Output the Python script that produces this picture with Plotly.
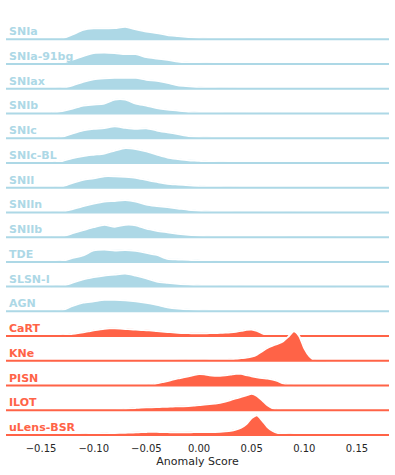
import plotly.graph_objects as go

# anomaly score grids (coarse for the common classes, fine for the anomalous ones)
score_coarse = [-0.14, -0.13, -0.12, -0.11, -0.10, -0.09, -0.08, -0.07, -0.06, -0.05,
                -0.04, -0.03, -0.02, -0.01, 0.00, 0.01, 0.02, 0.03, 0.04, 0.05,
                0.06, 0.07, 0.08, 0.09, 0.10, 0.11, 0.12, 0.13]
score_fine = [-0.140, -0.135, -0.130, -0.125, -0.120, -0.115, -0.110, -0.105, -0.100, -0.095,
              -0.090, -0.085, -0.080, -0.075, -0.070, -0.065, -0.060, -0.055, -0.050, -0.045,
              -0.040, -0.035, -0.030, -0.025, -0.020, -0.015, -0.010, -0.005, 0.000, 0.005,
              0.010, 0.015, 0.020, 0.025, 0.030, 0.035, 0.040, 0.045, 0.050, 0.055,
              0.060, 0.065, 0.070, 0.075, 0.080, 0.085, 0.090, 0.095, 0.100, 0.105,
              0.110, 0.115, 0.120]

# density estimates per class
snia = [0, 1.0, 5, 9.5, 11, 11, 11.2, 12.5, 10, 7.7, 6.3, 4.3, 3.3, 2.3, 1.3, 0.7, 0.4, 0.3, 0.2, 0.15, 0.1, 0.1, 0.05, 0.05, 0, 0, 0, 0]
snia_91bg = [0, 1.2, 4.5, 8, 11, 11.5, 11, 10, 10, 7, 5.5, 4.2, 2.5, 1.6, 1.0, 0.6, 0.4, 0.2, 0.15, 0.1, 0.1, 0.05, 0.05, 0, 0, 0, 0, 0]
sniax = [0, 0.8, 3.5, 7, 9.5, 10.5, 11, 11, 11, 9, 8, 6, 3.5, 2.5, 1.6, 1.0, 0.6, 0.4, 0.2, 0.15, 0.1, 0.05, 0.05, 0, 0, 0, 0, 0]
snib = [0.5, 2.5, 5, 8, 9, 10, 14, 14, 10, 8, 5.5, 4, 3, 1.6, 1.0, 0.6, 0.4, 0.3, 0.2, 0.15, 0.1, 0.05, 0.05, 0, 0, 0, 0, 0]
snic = [0, 1.5, 5, 8, 9.5, 10.2, 12, 10.5, 9.5, 10, 7.8, 6, 4.2, 2.2, 1.3, 0.8, 0.5, 0.3, 0.2, 0.15, 0.1, 0.05, 0.05, 0, 0, 0, 0, 0]
snic_bl = [0.3, 2, 5, 7, 8.3, 9.5, 12.5, 15, 14, 11.7, 8.5, 5.5, 4, 2.8, 2.3, 1.3, 0.7, 0.4, 0.2, 0.15, 0.1, 0.05, 0.05, 0, 0, 0, 0, 0]
snii = [0, 1.2, 5, 8, 9.5, 11.5, 11.5, 11, 10, 7.8, 5.8, 4, 3.2, 2.5, 1.6, 1.0, 0.6, 0.3, 0.2, 0.15, 0.1, 0.05, 0.05, 0, 0, 0, 0, 0]
sniin = [0, 0.7, 3.5, 6.5, 9, 11, 11.5, 12.3, 11, 8, 6.5, 5.3, 4, 2.7, 1.7, 1.0, 0.6, 0.4, 0.2, 0.15, 0.1, 0.05, 0.05, 0, 0, 0, 0, 0]
sniib = [0, 0.8, 4, 7, 10, 12.5, 10.5, 12.5, 12, 8.5, 6.5, 5, 3.5, 2.3, 1.3, 0.7, 0.4, 0.3, 0.2, 0.15, 0.1, 0.05, 0.05, 0, 0, 0, 0, 0]
tde = [0, 1.0, 4, 6.5, 11.5, 12.3, 11.5, 12, 11, 9.2, 7, 3, 2.5, 2.2, 1.5, 0.8, 0.4, 0.3, 0.2, 0.15, 0.1, 0.05, 0.05, 0, 0, 0, 0, 0]
slsn_i = [0, 1.0, 4, 7.3, 9.5, 11.2, 12.2, 13, 11, 8.3, 5, 3.8, 2.8, 2, 1.2, 0.7, 0.4, 0.3, 0.2, 0.15, 0.1, 0.05, 0.05, 0, 0, 0, 0, 0]
agn = [0, 1.2, 5.5, 8.7, 10, 11.5, 11.5, 11, 10, 8.5, 6.5, 4.2, 2.8, 2, 1.3, 0.8, 0.5, 0.3, 0.2, 0.15, 0.1, 0.05, 0.05, 0, 0, 0, 0, 0]

cart = [0, 0.1, 0.7, 1.5, 2.3, 3.0, 3.8, 4.8, 5.8, 6.6, 7.4, 7.8, 7.8, 7.5, 7.1, 6.8, 6.5, 6.2, 5.9, 5.5,
        5.0, 4.6, 4.2, 3.8, 3.4, 3.1, 3.0, 2.9, 2.9, 2.9, 3.0, 3.1, 3.3, 3.5, 3.8, 4.3, 5.2, 6.3, 6.6, 5.2,
        2.8, 1.0, 0.3, 0.1, 0, 0, 0, 0, 0, 0, 0, 0, 0]
kne = [0, 0, 0, 0, 0, 0, 0, 0, 0, 0, 0.05, 0.05, 0.1, 0.1, 0.1, 0.1, 0.15, 0.15, 0.2, 0.2,
       0.2, 0.25, 0.3, 0.3, 0.35, 0.4, 0.45, 0.5, 0.5, 0.6, 0.7, 0.9, 1.0, 1.2, 1.5, 2.0, 2.7, 3.3, 4.3, 6.3,
       9.7, 13.0, 15.3, 17.3, 19.7, 24.3, 29.5, 25.0, 12.5, 4.5, 0.5, 0, 0]
pisn = [0, 0, 0, 0, 0, 0, 0, 0, 0, 0, 0, 0, 0, 0, 0, 0, 0, 0, 0, 0.8,
        2.2, 3.4, 4.5, 6.0, 7.2, 8.2, 9.3, 10.5, 11.5, 11.2, 10.2, 9.8, 9.8, 10.3, 11.0, 11.8, 11.7, 10.5, 9.3, 8.3,
        7.5, 7.0, 6.0, 4.5, 2.2, 0.6, 0, 0, 0, 0, 0, 0, 0]
ilot = [0, 0, 0, 0, 0, 0, 0, 0, 0, 0, 0, 0, 0, 0.5, 1.2, 2.0, 2.4, 2.7, 2.9, 3.0,
        3.2, 3.4, 3.6, 3.8, 4.0, 4.1, 4.3, 4.7, 5.3, 5.7, 6.2, 6.8, 7.5, 8.8, 10.3, 12.0, 13.5, 15.0, 16.5, 14.5,
        10.0, 5.0, 2.0, 0.6, 0.1, 0, 0, 0, 0, 0, 0, 0, 0]
ulens_bsr = [0, 0, 0.05, 0.1, 0.2, 0.4, 0.7, 1.0, 1.3, 1.5, 1.7, 1.9, 2.1, 2.2, 2.3, 2.5, 2.7, 2.9, 3.1, 3.3,
             3.2, 3.0, 2.9, 2.8, 2.7, 2.7, 2.8, 2.9, 3.0, 3.0, 3.0, 3.1, 3.3, 3.7, 4.3, 5.5, 7.5, 11, 17, 19.8,
             14.5, 8.0, 4.0, 2.0, 1.3, 0.8, 0.5, 0.3, 0.2, 0.1, 0.05, 0, 0]

labels = ["SNIa", "SNIa-91bg", "SNIax", "SNIb", "SNIc", "SNIc-BL", "SNII", "SNIIn",
          "SNIIb", "TDE", "SLSN-I", "AGN", "CaRT", "KNe", "PISN", "ILOT", "uLens-BSR"]
densities = [snia, snia_91bg, sniax, snib, snic, snic_bl, snii, sniin,
             sniib, tde, slsn_i, agn, cart, kne, pisn, ilot, ulens_bsr]
anomalous = ["CaRT", "KNe", "PISN", "ILOT", "uLens-BSR"]

BLUE = "#add8e6"
RED = "#ff6347"
GAP = 24.73          # vertical distance between ridges
X_RANGE = [-0.1833, 0.1804]

fig = go.Figure()
for i, (name, dens) in enumerate(zip(labels, densities)):
    off = -i * GAP
    color = RED if name in anomalous else BLUE
    xs = score_fine if name in anomalous else score_coarse
    ys = [off + d for d in dens]
    # filled ridge
    fig.add_trace(go.Scatter(x=xs, y=ys, mode="lines", fill="toself", fillcolor=color,
                             line=dict(color=color, width=1, shape="spline", smoothing=0.7),
                             hoverinfo="skip", showlegend=False))
    # white outline
    fig.add_trace(go.Scatter(x=xs, y=ys, mode="lines",
                             line=dict(color="white", width=2, shape="spline", smoothing=0.7),
                             hoverinfo="skip", showlegend=False))
    # baseline
    fig.add_trace(go.Scatter(x=X_RANGE, y=[off, off], mode="lines",
                             line=dict(color=color, width=2),
                             hoverinfo="skip", showlegend=False))
    fig.add_annotation(x=0.003, xref="paper", xanchor="left", y=off, yref="y",
                       yanchor="middle", yshift=7.5, text=name, showarrow=False,
                       font=dict(family="DejaVu Sans", size=11, color=color, weight="bold"))

fig.update_layout(
    width=395, height=475,
    margin=dict(l=6, r=6, t=10, b=39),
    paper_bgcolor="white", plot_bgcolor="white",
    font=dict(family="DejaVu Sans", color="#262626"),
    xaxis=dict(range=X_RANGE, showgrid=False, zeroline=False, showline=False, ticks="",
               automargin=False, ticklabelstandoff=5,
               tickvals=[-0.15, -0.10, -0.05, 0.00, 0.05, 0.10, 0.15],
               ticktext=["\u22120.15", "\u22120.10", "\u22120.05", "0.00", "0.05", "0.10", "0.15"],
               tickfont=dict(size=10, color="#262626"),
               title=dict(text="Anomaly Score", font=dict(size=11, color="#262626"), standoff=4)),
    yaxis=dict(range=[-16 * GAP - 1, 29.3], visible=False, automargin=False),
)

fig.write_html("out.html", config={"displayModeBar": False},
               post_script="document.body.style.margin='0';")
